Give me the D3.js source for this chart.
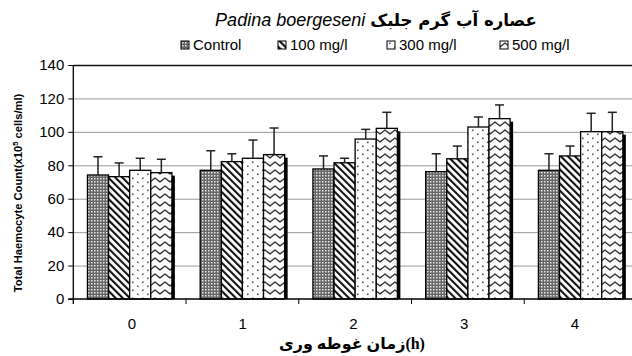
<!DOCTYPE html>
<html>
<head>
<meta charset="utf-8">
<script src="https://cdn.jsdelivr.net/npm/d3@7"></script>
<style>
  html, body { margin: 0; padding: 0; background: #fff; }
  svg { display: block; }
</style>
</head>
<body>
<svg id="chart" width="632" height="356"></svg>
<script>
// Immersion time groups (hours)
const categories = ["0", "1", "2", "3", "4"];
const seriesNames = ["Control", "100 mg/l", "300 mg/l", "500 mg/l"];
// Mean total haemocyte count (x10^5 cells/ml) per series, one value per time group
const control = [74.2, 77.0, 77.8, 76.2, 77.0];
const mg100   = [73.2, 82.2, 81.5, 83.9, 85.6];
const mg300   = [77.0, 84.2, 95.7, 102.9, 100.1];
const mg500   = [75.6, 86.4, 102.1, 107.9, 100.1];
// Standard deviation (upper error bar) per series
const controlErr = [10.9, 11.7, 7.8, 10.7, 9.9];
const mg100Err   = [8.2, 4.7, 2.7, 7.6, 5.9];
const mg300Err   = [7.2, 10.9, 5.8, 6.0, 11.0];
const mg500Err   = [8.0, 15.9, 9.6, 8.2, 11.6];
const yTicks = [0, 20, 40, 60, 80, 100, 120, 140];

const values = [control, mg100, mg300, mg500];
const errors = [controlErr, mg100Err, mg300Err, mg500Err];
const patternIds = ["pat-control", "pat-100", "pat-300", "pat-500"];

const svg = d3.select("#chart");
const plot = { left: 73.3, right: 637, top: 65, bottom: 299 };

const x0 = d3.scaleBand().domain(categories).range([plot.left, plot.right]).paddingInner(0).paddingOuter(0);
const x1 = d3.scaleBand().domain(d3.range(seriesNames.length))
  .range([0, x0.bandwidth()]).paddingInner(0).paddingOuter(0.67);
const y = d3.scaleLinear().domain([0, 140]).range([plot.bottom, plot.top]);
// category label positions along the axis
const xLabel = d3.scalePoint().domain(categories).range([132, 575]);

// ---- fill patterns ----
const defs = svg.append("defs");

// Control: grey grid with light dots
const pc = defs.append("pattern").attr("id", "pat-control")
  .attr("patternUnits", "userSpaceOnUse").attr("width", 3).attr("height", 3);
pc.append("rect").attr("width", 3).attr("height", 3).attr("fill", "#666");
pc.append("rect").attr("x", 1).attr("y", 1).attr("width", 1.5).attr("height", 1.5).attr("fill", "#e8e8e8");

// 100 mg/l: wide downward diagonals
const p1 = defs.append("pattern").attr("id", "pat-100")
  .attr("patternUnits", "userSpaceOnUse").attr("width", 5).attr("height", 5)
  .attr("patternTransform", "rotate(-45)");
p1.append("rect").attr("width", 5).attr("height", 5).attr("fill", "#fff");
p1.append("rect").attr("width", 2.1).attr("height", 5).attr("fill", "#111");

// 300 mg/l: sparse staggered dots
const p3 = defs.append("pattern").attr("id", "pat-300")
  .attr("patternUnits", "userSpaceOnUse").attr("width", 10).attr("height", 8);
p3.append("rect").attr("width", 10).attr("height", 8).attr("fill", "#fff");
p3.append("rect").attr("x", 2).attr("y", 1.5).attr("width", 1.6).attr("height", 1.6).attr("fill", "#555");
p3.append("rect").attr("x", 7).attr("y", 5.5).attr("width", 1.6).attr("height", 1.6).attr("fill", "#555");

// 500 mg/l: horizontal waves
const p5 = defs.append("pattern").attr("id", "pat-500")
  .attr("patternUnits", "userSpaceOnUse").attr("width", 10).attr("height", 8);
p5.append("rect").attr("width", 10).attr("height", 8).attr("fill", "#fff");
p5.append("path").attr("d", "M-2.5,4 L0,6 L2.5,4 L5,2 L7.5,4 L10,6 L12.5,4")
  .attr("fill", "none").attr("stroke", "#333").attr("stroke-width", 1.4)
  .attr("stroke-linejoin", "round");

// ---- gridlines ----
svg.append("g").selectAll("line").data(yTicks.filter(t => t > 0)).join("line")
  .attr("x1", plot.left).attr("x2", plot.right)
  .attr("y1", d => y(d) + 0.5).attr("y2", d => y(d) + 0.5)
  .attr("stroke", d => d === 140 ? "#111" : "#999")
  .attr("stroke-width", d => d === 140 ? 1.3 : 1);

// ---- bars with drop shadows ----
const barsG = svg.append("g");
categories.forEach((c, ci) => {
  seriesNames.forEach((s, si) => {
    const v = values[si][ci];
    const bx = x0(c) + x1(si);
    const bw = x1.bandwidth();
    barsG.append("rect")
      .attr("x", bx + 3).attr("y", y(v) + 3)
      .attr("width", bw).attr("height", plot.bottom - y(v) - 3)
      .attr("fill", "#000");
    barsG.append("rect")
      .attr("x", bx).attr("y", y(v))
      .attr("width", bw).attr("height", plot.bottom - y(v))
      .attr("fill", `url(#${patternIds[si]})`)
      .attr("stroke", "#000").attr("stroke-width", 1.3);
  });
});

// ---- error bars (upper) ----
const errG = svg.append("g").attr("stroke", "#222").attr("stroke-width", 1.5);
categories.forEach((c, ci) => {
  seriesNames.forEach((s, si) => {
    const v = values[si][ci], e = errors[si][ci];
    const cx = x0(c) + x1(si) + x1.bandwidth() / 2;
    errG.append("line").attr("x1", cx).attr("x2", cx).attr("y1", y(v)).attr("y2", y(v + e));
    errG.append("line").attr("x1", cx - 4.5).attr("x2", cx + 4.5).attr("y1", y(v + e)).attr("y2", y(v + e));
  });
});

// ---- axes ----
const yAxis = d3.axisLeft(y).tickValues(yTicks).tickSize(5).tickPadding(4).tickFormat(d3.format("d"));
const gy = svg.append("g").attr("transform", `translate(${plot.left},0)`).call(yAxis);
gy.select(".domain").attr("d", `M0,${plot.top}V${plot.bottom + 5}`).attr("stroke", "#000").attr("stroke-width", 1.3);
gy.selectAll(".tick line").attr("stroke", "#000");
gy.selectAll("text").attr("font-family", "Liberation Sans, Arial, sans-serif").attr("font-size", 15).attr("fill", "#000");

// x axis: ticks on group boundaries, labels under each group
const gx = svg.append("g");
gx.append("line").attr("x1", plot.left - 5).attr("x2", plot.right)
  .attr("y1", plot.bottom).attr("y2", plot.bottom).attr("stroke", "#000").attr("stroke-width", 1.3);
gx.selectAll("line.tk").data(categories.slice(1)).join("line").attr("class", "tk")
  .attr("x1", d => x0(d)).attr("x2", d => x0(d))
  .attr("y1", plot.bottom).attr("y2", plot.bottom + 5).attr("stroke", "#000");
gx.selectAll("text").data(categories).join("text")
  .attr("x", d => xLabel(d))
  .attr("y", plot.bottom + 30)
  .attr("text-anchor", "middle")
  .attr("font-family", "Liberation Sans, Arial, sans-serif").attr("font-size", 15)
  .text(d => d);

// ---- titles ----
const title = svg.append("text").attr("x", 376).attr("y", 26).attr("text-anchor", "middle")
  .attr("direction", "ltr");
title.append("tspan").attr("font-family", "Liberation Sans, Arial, sans-serif")
  .attr("font-style", "italic").attr("font-size", 18).text("Padina boergeseni ");
title.append("tspan").attr("font-family", "DejaVu Sans, sans-serif")
  .attr("font-weight", "bold").attr("font-size", 16.5).text("عصاره آب گرم جلبک");

svg.append("text").attr("x", 352).attr("y", 349).attr("text-anchor", "middle")
  .attr("font-family", "Liberation Serif, DejaVu Sans, serif").attr("font-weight", "bold")
  .attr("font-size", 16).attr("direction", "ltr").text("زمان غوطه وری(h)");

svg.append("text")
  .attr("transform", "translate(22,193) rotate(-90)")
  .attr("text-anchor", "middle")
  .attr("font-family", "Liberation Sans, Arial, sans-serif").attr("font-weight", "bold")
  .attr("font-size", 11.2)
  .call(t => {
    t.append("tspan").text("Total Haemocyte Count(x10");
    t.append("tspan").attr("dy", -4).attr("font-size", 7.5).text("5");
    t.append("tspan").attr("dy", 4).text(" cells/ml)");
  });

// ---- legend ----
const legendX = [181, 278, 387, 500];
const legend = svg.append("g");
seriesNames.forEach((s, i) => {
  const g = legend.append("g").attr("transform", `translate(${legendX[i]},41)`);
  g.append("rect").attr("width", 8).attr("height", 8)
    .attr("fill", `url(#${patternIds[i]})`).attr("stroke", "#000").attr("stroke-width", 1);
  g.append("text").attr("x", 12).attr("y", 9)
    .attr("font-family", "Liberation Sans, Arial, sans-serif").attr("font-size", 15)
    .text(s);
});
</script>
</body>
</html>
